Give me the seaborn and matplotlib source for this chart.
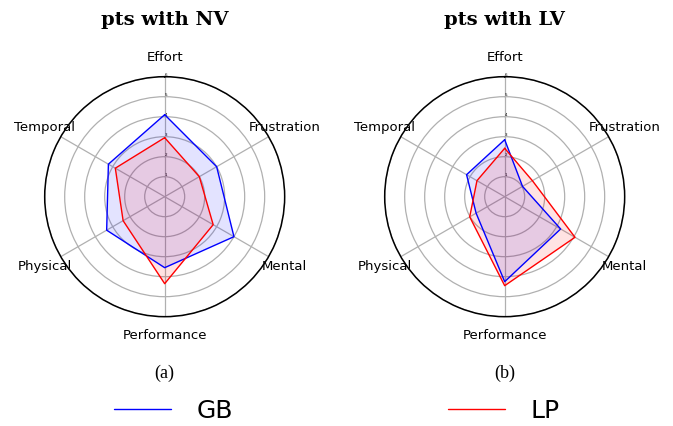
import numpy as np
import pandas as pd
import matplotlib
matplotlib.use('Agg')
import matplotlib.pyplot as plt
import seaborn as sns
from matplotlib.lines import Line2D

# categories clockwise from the top
categories = ['Effort', 'Frustration', 'Mental', 'Performance', 'Physical', 'Temporal']

# pts with NV
nv_gb = [4.1, 3.0, 4.0, 3.55, 3.35, 3.25]
nv_lp = [2.95, 2.0, 2.8, 4.35, 2.4, 2.85]
# pts with LV
lv_gb = [2.85, 1.03, 3.23, 4.25, 1.65, 2.2]
lv_lp = [2.42, 1.6, 4.06, 4.45, 2.02, 1.6]

titles = ['pts with NV', 'pts with LV']
captions = ['(a)', '(b)']
series_names = ['GB', 'LP']
colors = {'GB': 'blue', 'LP': 'red'}

sns.set_style('white')
plt.rcParams['font.family'] = ['DejaVu Sans']
plt.rcParams['text.color'] = 'black'
plt.rcParams['xtick.color'] = 'black'
plt.rcParams['ytick.color'] = 'black'

fig = plt.figure(figsize=(6.73, 4.26), dpi=100)
boxes = [[0.0664, 0.2566, 0.3566, 0.5634], [0.5716, 0.2566, 0.3566, 0.5634]]

angles = np.linspace(0, 2 * np.pi, len(categories), endpoint=False)
closed = np.concatenate([angles, angles[:1]])

panels = [(nv_gb, nv_lp), (lv_gb, lv_lp)]
for i, (gb, lp) in enumerate(panels):
    ax = fig.add_axes(boxes[i], projection='polar')
    ax.set_theta_offset(np.pi / 2)
    ax.set_theta_direction(-1)
    for name, vals in zip(series_names, [gb, lp]):
        df = pd.DataFrame({'theta': closed, 'r': list(vals) + [vals[0]]})
        sns.lineplot(data=df, x='theta', y='r', sort=False, estimator=None,
                     ax=ax, color=colors[name], linewidth=1.0)
        ax.fill(df['theta'].values, df['r'].values, color=colors[name],
                alpha=0.11, linewidth=0)
    ax.set_ylim(0, 6)
    ax.set_rticks([1, 2, 3, 4, 5, 6])
    ax.set_yticklabels(['1', '2', '3', '4', '5', '6'], fontsize=3)
    ax.set_rlabel_position(0)
    ax.set_xticks(angles)
    ax.set_xticklabels(categories, fontsize=9.5)
    ax.tick_params(axis='x', pad=3)
    ax.set_xlabel('')
    ax.set_ylabel('')
    ax.grid(True, color='#b0b0b0', linewidth=0.9)
    ax.spines['polar'].set_color('black')
    ax.spines['polar'].set_linewidth(1.1)

    cx = boxes[i][0] + boxes[i][2] / 2
    fig.text(cx, 0.953, titles[i], ha='center', va='center',
             fontsize=14, fontweight='bold', family='DejaVu Serif')
    fig.text(cx, 0.124, captions[i], ha='center', va='center',
             fontsize=13, family='Liberation Serif')

handles = [Line2D([], [], color=colors[n], linewidth=1.0) for n in series_names]
fig.legend(handles, series_names, loc='center', bbox_to_anchor=(0.5, 0.035),
           ncol=2, frameon=False, fontsize=18, handlelength=2.3,
           handletextpad=1.0, columnspacing=8.6)

fig.savefig('out.png', dpi=100)
